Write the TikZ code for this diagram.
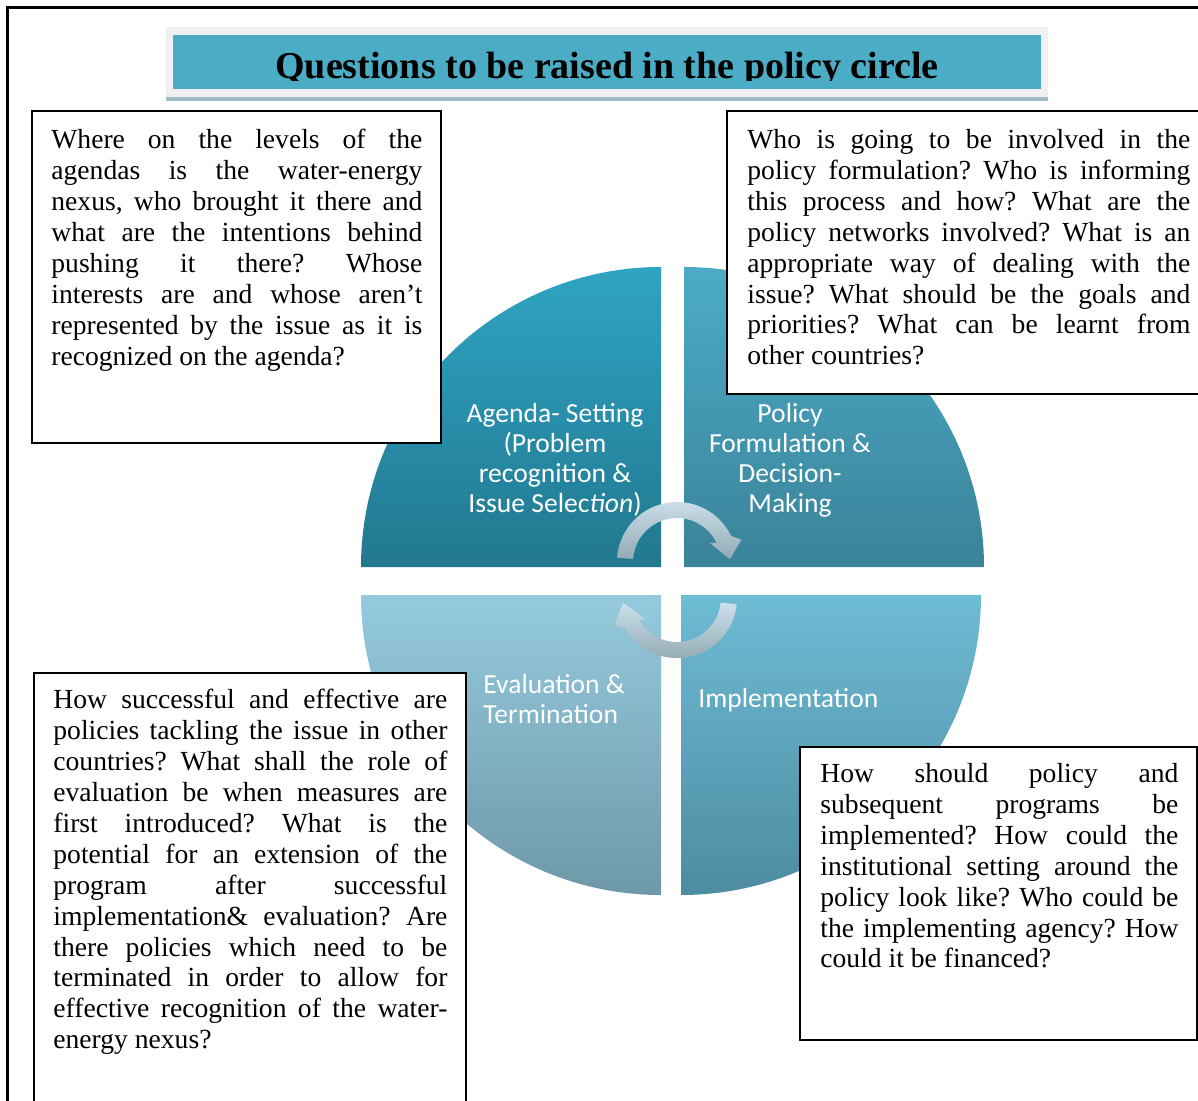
\documentclass[tikz,border=0pt]{standalone}
\usepackage{fontspec}
\setmainfont{Liberation Serif}
\newfontfamily\phasefamily{Carlito}
\usetikzlibrary{calc}
\setlength{\parindent}{0pt}
\frenchspacing

\definecolor{titleteal}{HTML}{4BACC6}
\definecolor{titlegray}{HTML}{F0F0F2}
\definecolor{titlestrip}{HTML}{A3BDC6}
\definecolor{agendatop}{HTML}{2EA4C3}
\definecolor{agendabot}{HTML}{22788F}
\definecolor{formtop}{HTML}{4CABC7}
\definecolor{formbot}{HTML}{3A8399}
\definecolor{evaltop}{HTML}{95CADE}
\definecolor{evalbot}{HTML}{6E98A8}
\definecolor{impltop}{HTML}{6EBBD4}
\definecolor{implbot}{HTML}{4D8CA1}
\definecolor{arrowtop}{HTML}{CBE0EA}
\definecolor{arrowbot}{HTML}{93A9B3}

\newcommand{\questionfont}{\fontsize{13.8pt}{15.45pt}\selectfont\tolerance=10000\hyphenpenalty=10000\exhyphenpenalty=0}
\newcommand{\phasefont}{\phasefamily\fontsize{13.8pt}{15pt}\selectfont}

\tikzset{
  question/.style={anchor=north west, inner sep=0pt, text width=#1, align=justify, font=\questionfont},
  questionbox/.style={draw=black, line width=1pt, fill=white},
  phase/.style={text=white, inner sep=0pt, font=\phasefont},
  circlearrow/.style={top color=arrowtop, bottom color=arrowbot}
}

\begin{document}
\begin{tikzpicture}[x=0.5pt, y=-0.5pt]
        \useasboundingbox (0,0) rectangle (1198,1101);
        \clip (0,0) rectangle (1198,1101);
        % outer frame
        \draw[line width=1.5pt] (7.5,1120) -- (7.5,7.5) -- (1220,7.5);
        % title
        \fill[titlegray] (166,27) rectangle (1048,97);
        \fill[titleteal] (173,35) rectangle (1041,89);
        \fill[titlestrip] (166,97) rectangle (1048,101);
        \begin{scope}
            \clip (173,35) rectangle (1041,81);
            \node[anchor=base, inner sep=0pt, font=\fontsize{19pt}{22pt}\selectfont\bfseries] (title) at (607,79) {Questions to be raised in the policy circle};
        \end{scope}
        % the four quarters of the policy circle
        \coordinate (agenda) at (661,567);
        \coordinate (form) at (684,567);
        \coordinate (eval) at (661,595);
        \coordinate (impl) at (681,595);
        \shade[top color=agendatop, bottom color=agendabot] (agenda) -- ++(-300,0) arc[start angle=180, end angle=270, radius=300] -- cycle;
        \shade[top color=formtop, bottom color=formbot] (form) -- ++(0,-300) arc[start angle=270, end angle=360, radius=300] -- cycle;
        \shade[top color=evaltop, bottom color=evalbot] (eval) -- ++(0,300) arc[start angle=90, end angle=180, radius=300] -- cycle;
        \shade[top color=impltop, bottom color=implbot] (impl) -- ++(300,0) arc[start angle=0, end angle=90, radius=300] -- cycle;
        % turning arrows
        \coordinate (ta) at (677,562);
        \coordinate (ba) at (677,598);
        \shade[circlearrow] ($(ta)+(184:60)$) arc[start angle=184, end angle=334, radius=60]
            -- ($(ta)+(341:68)$) -- ($(ta)+(357:53)$) -- ($(ta)+(330:38)$) -- ($(ta)+(334:44)$)
            arc[start angle=334, end angle=184, radius=44] -- cycle;
        \shade[circlearrow] ($(ba)+(6:60)$) arc[start angle=6, end angle=150, radius=60]
            -- ($(ba)+(157:68)$) -- ($(ba)+(175:54)$) -- ($(ba)+(146:38)$) -- ($(ba)+(150:44)$)
            arc[start angle=150, end angle=6, radius=44] -- cycle;
        % phase labels
        \node[phase, align=center] (agendalbl) at (555,460) {Agenda- Setting\\(Problem\\recognition \&\\Issue Selec\textit{tion})};
        \node[phase, align=center] (formlbl) at (790,460) {Policy\\Formulation \&\\Decision-\\Making};
        \node[phase, align=left, anchor=west] (evallbl) at (483,699) {Evaluation \&\\Termination};
        \node[phase, anchor=west] (impllbl) at (698,700) {Implementation};
        % question boxes
        \draw[questionbox] (32,111) rectangle (441,443);
        \draw[questionbox] (727,111) rectangle (1220,394);
        \draw[questionbox] (34,673) rectangle (466,1120);
        \draw[questionbox] (800,747) rectangle (1197,1040);
        \node[question=185.5pt] (agendaq) at (51,129) {Where on the levels of the\linebreak
            agendas is the water-energy\linebreak
            nexus, who brought it there and\linebreak
            what are the intentions behind\linebreak
            pushing it there? Whose\linebreak
            interests are and whose aren’t\linebreak
            represented by the issue as it is\linebreak
            recognized on the agenda?};
        \node[question=221.5pt] (formq) at (747,129) {Who is going to be involved in the\linebreak
            policy formulation? Who is informing\linebreak
            this process and how? What are the\linebreak
            policy networks involved? What is an\linebreak
            appropriate way of dealing with the\linebreak
            issue? What should be the goals and\linebreak
            priorities? What can be learnt from\linebreak
            other countries?};
        \node[question=197pt] (evalq) at (53,689) {How successful and effective are\linebreak
            policies tackling the issue in other\linebreak
            countries? What shall the role of\linebreak
            evaluation be when measures are\linebreak
            first introduced? What is the\linebreak
            potential for an extension of the\linebreak
            program after successful\linebreak
            implementation\& evaluation? Are\linebreak
            there policies which need to be\linebreak
            terminated in order to allow for\linebreak
            effective recognition of the water-\linebreak
            energy nexus?};
        \node[question=179pt] (implq) at (820,763) {How should policy and\linebreak
            subsequent programs be\linebreak
            implemented? How could the\linebreak
            institutional setting around the\linebreak
            policy look like? Who could be\linebreak
            the implementing agency? How\linebreak
            could it be financed?};
\end{tikzpicture}
\end{document}
